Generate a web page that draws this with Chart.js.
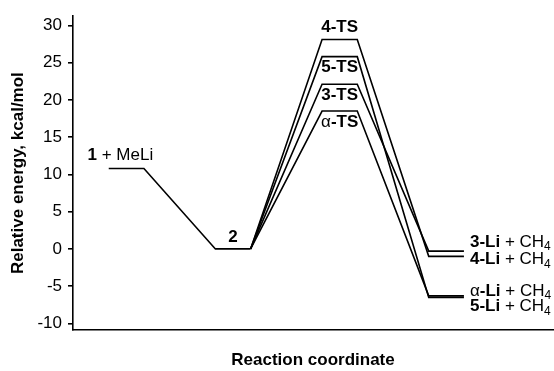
<!DOCTYPE html>
<html>
<head>
<meta charset="utf-8">
<script src="https://cdn.jsdelivr.net/npm/chart.js@4/dist/chart.umd.min.js"></script>
<style>
  html, body { margin: 0; padding: 0; background: #fff; }
  #wrap { width: 554px; height: 371px; }
</style>
</head>
<body>
<div id="wrap"><canvas id="c"></canvas></div>
<script>
// Stage positions along the reaction coordinate
const stagePositions = [1, 2, 3, 4];
// Energies (kcal/mol) relative to complex 2
const reactantEnergy = 10.8;   // 1 + MeLi
const complexEnergy = 0;       // 2
const pathwayNames = ['α', '3', '4', '5'];
const tsEnergies = [18.5, 22.1, 28.1, 25.8];
const productEnergies = [-6.3, -0.3, -1.0, -6.5];
const yTickValues = [-10, -5, 0, 5, 10, 15, 20, 25, 30];

// Drawing constants
const PLATEAU = 0.165;   // half width of each energy level, in x units
const FONT = 'Arial, "Liberation Sans", Helvetica, sans-serif';
const FS = 17;

function level(x, y) {
  return [{ x: x - PLATEAU, y: y }, { x: x + PLATEAU, y: y }];
}

const lineStyle = {
  borderColor: '#000', borderWidth: 1.6, pointRadius: 0,
  tension: 0, fill: false, showLine: true
};

const datasets = [];
// reactant -> complex
datasets.push(Object.assign({
  label: 'entry',
  data: [...level(stagePositions[0], reactantEnergy), ...level(stagePositions[1], complexEnergy)]
}, lineStyle));
// complex -> TS -> product, one branch per pathway
pathwayNames.forEach((name, i) => {
  datasets.push(Object.assign({
    label: name,
    data: [
      { x: stagePositions[1] + PLATEAU, y: complexEnergy },
      ...level(stagePositions[2], tsEnergies[i]),
      ...level(stagePositions[3], productEnergies[i])
    ]
  }, lineStyle));
});

// text placement for the level labels (pixel offsets)
const productLabelDy = { '3': -9, '4': 3, 'α': -5, '5': 9 };

function drawRuns(ctx, runs, x, y, align) {
  const fontFor = r => (r.b ? 'bold ' : '') + (r.sub ? 12 : FS) + 'px ' + FONT;
  let total = 0;
  runs.forEach(r => { ctx.font = fontFor(r); total += ctx.measureText(r.t).width; });
  let cx = align === 'center' ? x - total / 2 : x;
  ctx.textAlign = 'left';
  ctx.textBaseline = 'middle';
  ctx.fillStyle = '#000';
  runs.forEach(r => {
    ctx.font = fontFor(r);
    ctx.fillText(r.t, cx, r.sub ? y + 5 : y);
    cx += ctx.measureText(r.t).width;
  });
}

const levelLabels = {
  id: 'levelLabels',
  afterDatasetsDraw(chart) {
    const ctx = chart.ctx;
    const xs = chart.scales.x, ys = chart.scales.y;
    ctx.save();
    drawRuns(ctx, [{ t: '1', b: 1 }, { t: ' + MeLi' }],
      xs.getPixelForValue(stagePositions[0]) - 6, ys.getPixelForValue(reactantEnergy) - 13, 'center');
    drawRuns(ctx, [{ t: '2', b: 1 }],
      xs.getPixelForValue(stagePositions[1]), ys.getPixelForValue(complexEnergy) - 12, 'center');
    const topTs = Math.max(...tsEnergies);
    pathwayNames.forEach((name, i) => {
      const head = name === 'α' ? { t: name } : { t: name, b: 1 };
      const yTs = ys.getPixelForValue(tsEnergies[i]);
      drawRuns(ctx, [head, { t: '-TS', b: 1 }],
        xs.getPixelForValue(stagePositions[2]), tsEnergies[i] === topTs ? yTs - 12 : yTs + 11, 'center');
      const yP = ys.getPixelForValue(productEnergies[i]);
      drawRuns(ctx, [head, { t: '-Li', b: 1 }, { t: ' + CH' }, { t: '4', sub: 1 }],
        xs.getPixelForValue(stagePositions[3] + PLATEAU) + 6, yP + productLabelDy[name], 'left');
    });
    ctx.restore();
  }
};

Chart.defaults.font.family = FONT;
Chart.defaults.color = '#000';

new Chart(document.getElementById('c'), {
  type: 'scatter',
  data: { datasets },
  options: {
    responsive: true,
    maintainAspectRatio: false,
    animation: false,
    layout: { padding: { top: 11, right: 1, left: 0, bottom: 0 } },
    plugins: { legend: { display: false }, tooltip: { enabled: false } },
    scales: {
      x: {
        type: 'linear', min: 0.5, max: 5.0,
        ticks: { display: false },
        grid: { display: false },
        border: { display: true, color: '#000', width: 1.6 },
        title: { display: true, text: 'Reaction coordinate', font: { size: FS, weight: 'bold' }, padding: { top: 0, bottom: 0 } },
        afterFit(scale) { scale.height = 41; }
      },
      y: {
        type: 'linear', min: -10.88, max: 31.23,
        afterBuildTicks(scale) { scale.ticks = yTickValues.map(v => ({ value: v })); },
        ticks: { font: { size: FS }, padding: 6, color: '#000' },
        grid: { drawOnChartArea: false, drawTicks: true, tickLength: 5, color: '#000', lineWidth: 1.6 },
        border: { display: true, color: '#000', width: 1.6 },
        title: { display: true, text: 'Relative energy, kcal/mol', font: { size: FS, weight: 'bold' }, padding: { top: 8, bottom: 0 } },
        afterFit(scale) { scale.width = 73; }
      }
    }
  },
  plugins: [levelLabels]
});
</script>
</body>
</html>
